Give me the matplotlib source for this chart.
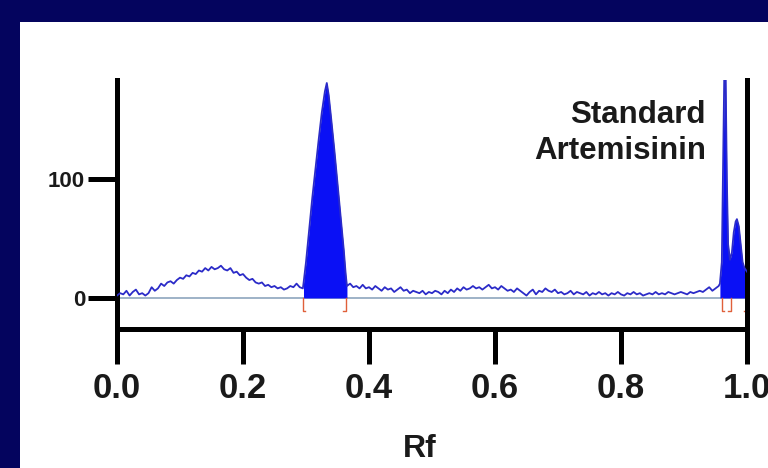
import matplotlib
matplotlib.use("Agg")
import matplotlib.pyplot as plt
from matplotlib.patches import Rectangle
import numpy as np

# ---------------- data ----------------
# Noisy densitometer trace before the main band
rf_pre = [0.000, 0.005, 0.010, 0.015, 0.020, 0.025, 0.030, 0.035, 0.040, 0.045,
          0.050, 0.055, 0.060, 0.065, 0.070, 0.075, 0.080, 0.085, 0.090, 0.095,
          0.100, 0.105, 0.110, 0.115, 0.120, 0.125, 0.130, 0.135, 0.140, 0.145,
          0.150, 0.155, 0.160, 0.165, 0.170, 0.175, 0.180, 0.185, 0.190, 0.195,
          0.200, 0.205, 0.210, 0.215, 0.220, 0.225, 0.230, 0.235, 0.240, 0.245,
          0.250, 0.255, 0.260, 0.265, 0.270, 0.275, 0.280, 0.285, 0.290, 0.295]
int_pre = [2, 4, 3, 6, 2, 5, 7, 3, 4, 2,
           4, 9, 6, 8, 12, 10, 13, 14, 12, 15,
           17, 16, 19, 18, 21, 20, 23, 22, 25, 23,
           26, 24, 25, 27, 24, 23, 25, 21, 22, 19,
           20, 17, 15, 16, 13, 12, 13, 10, 11, 9,
           10, 8, 9, 7, 8, 10, 9, 12, 9, 8]

# Main (filled) band
rf_band = [0.296, 0.300, 0.305, 0.310, 0.315, 0.320, 0.325, 0.330, 0.333,
           0.336, 0.340, 0.345, 0.350, 0.355, 0.360, 0.363, 0.365]
int_band = [12, 30, 57, 84, 108, 132, 155, 173, 180,
            170, 150, 124, 96, 68, 40, 20, 10]

# Trace between main band and the standard
rf_mid = [0.370, 0.375, 0.380, 0.385, 0.390, 0.395, 0.400, 0.405, 0.410, 0.415,
          0.420, 0.425, 0.430, 0.435, 0.440, 0.445, 0.450, 0.455, 0.460, 0.465,
          0.470, 0.475, 0.480, 0.485, 0.490, 0.495, 0.500, 0.505, 0.510, 0.515,
          0.520, 0.525, 0.530, 0.535, 0.540, 0.545, 0.550, 0.555, 0.560, 0.565,
          0.570, 0.575, 0.580, 0.585, 0.590, 0.595, 0.600, 0.605, 0.610, 0.615,
          0.620, 0.625, 0.630, 0.635, 0.640, 0.645, 0.650, 0.655, 0.660, 0.665,
          0.670, 0.675, 0.680, 0.685, 0.690, 0.695, 0.700, 0.705, 0.710, 0.715,
          0.720, 0.725, 0.730, 0.735, 0.740, 0.745, 0.750, 0.755, 0.760, 0.765,
          0.770, 0.775, 0.780, 0.785, 0.790, 0.795, 0.800, 0.805, 0.810, 0.815,
          0.820, 0.825, 0.830, 0.835, 0.840, 0.845, 0.850, 0.855, 0.860, 0.865,
          0.870, 0.875, 0.880, 0.885, 0.890, 0.895, 0.900, 0.905, 0.910, 0.915,
          0.920, 0.925, 0.930, 0.935, 0.940, 0.945, 0.950, 0.955]
int_mid = [12, 9, 10, 8, 11, 8, 9, 7, 10, 8,
           6, 9, 7, 8, 5, 7, 9, 6, 7, 4,
           6, 5, 4, 6, 3, 5, 4, 6, 5, 3,
           6, 4, 7, 5, 8, 6, 9, 7, 8, 10,
           8, 9, 7, 9, 11, 8, 9, 7, 10, 8,
           6, 7, 5, 8, 6, 4, 2, 5, 7, 3,
           6, 5, 8, 6, 5, 7, 4, 5, 3, 4,
           6, 3, 5, 4, 3, 5, 2, 4, 3, 5,
           3, 4, 2, 4, 3, 5, 3, 2, 4, 3,
           5, 3, 4, 2, 3, 4, 3, 5, 3, 4,
           3, 5, 4, 3, 4, 5, 4, 3, 5, 4,
           5, 6, 5, 7, 9, 6, 8, 10]

# Standard artemisinin band (filled)
rf_std = [0.957, 0.960, 0.962, 0.964, 0.966, 0.968, 0.970, 0.973, 0.976,
          0.979, 0.982, 0.984, 0.987, 0.990, 0.993, 0.996, 1.000]
int_std = [12, 30, 110, 190, 190, 100, 45, 32, 38,
           55, 64, 66, 60, 45, 30, 25, 22]

# Integration boundary markers (red brackets)
bracket_rf = [0.295, 0.363, 0.960, 0.974, 0.999]
bracket_side = [1, -1, 1, -1, -1]

x_ticks = [0.0, 0.2, 0.4, 0.6, 0.8, 1.0]
x_ticklabels = ["0.0", "0.2", "0.4", "0.6", "0.8", "1.0"]
y_ticks = [0, 100]
y_ticklabels = ["0", "100"]
annotation = "Standard\nArtemisinin"
x_label = "Rf"

# ---------------- figure ----------------
plt.rcParams['font.family'] = ['Liberation Sans', 'DejaVu Sans']

W, H = 768, 468
fig = plt.figure(figsize=(W / 100, H / 100), dpi=100)
navy = "#04045e"
fig.patch.set_facecolor(navy)
bg = Rectangle((20 / W, 0), 1 - 20 / W, (H - 22) / H,
               transform=fig.transFigure, facecolor="white",
               edgecolor="none", zorder=-5)
fig.add_artist(bg)

ax = fig.add_axes([117 / W, 1 - 329 / H, (747 - 117) / W, (329 - 80) / H])
ax.set_zorder(1)
ax.set_facecolor("none")

trace_color = "#2b2bc8"
fill_color = "#0a10f5"

ax.axhline(0, color="#8ea6bd", lw=1.2, zorder=1)

rf_all = rf_pre + rf_band + rf_mid + rf_std
int_all = int_pre + int_band + int_mid + int_std
ax.plot(rf_all, int_all, color=trace_color, lw=1.3, zorder=3)
ax.fill_between(rf_band, 0, int_band, color=fill_color, lw=0, zorder=2)
ax.fill_between(rf_std, 0, int_std, color=fill_color, lw=0, zorder=2)

depth = 11
foot = 0.004
for r, s in zip(bracket_rf, bracket_side):
    ax.plot([r, r, r + s * foot], [0, -depth, -depth], color="#e0603a",
            lw=1.0, zorder=2)

ax.text(0.935, 166, annotation, ha="right", va="top", fontsize=22.5,
        fontweight="bold", color="#1a1a1a", linespacing=1.27)

ax.set_xlim(0, 1.0)
ax.set_ylim(-26, 182.5)

for side in ["left", "bottom", "right"]:
    ax.spines[side].set_linewidth(3.6)
    ax.spines[side].set_color("black")
ax.spines["top"].set_visible(False)

ax.set_xticks(x_ticks)
ax.set_xticklabels(x_ticklabels)
ax.set_yticks(y_ticks)
ax.set_yticklabels(y_ticklabels)
ax.tick_params(axis="x", direction="out", length=25, width=3.6, pad=6,
               labelsize=25)
ax.tick_params(axis="y", direction="out", length=21, width=3.6, pad=2,
               labelsize=16)
for lab in ax.get_xticklabels() + ax.get_yticklabels():
    lab.set_fontweight("bold")
    lab.set_color("#1a1a1a")

ax.set_xlabel(x_label, fontsize=23, fontweight="bold", color="#1a1a1a",
              labelpad=2)
ax.xaxis.set_label_coords(0.48, -0.42)

fig.savefig("out.png", dpi=100, facecolor=navy)
